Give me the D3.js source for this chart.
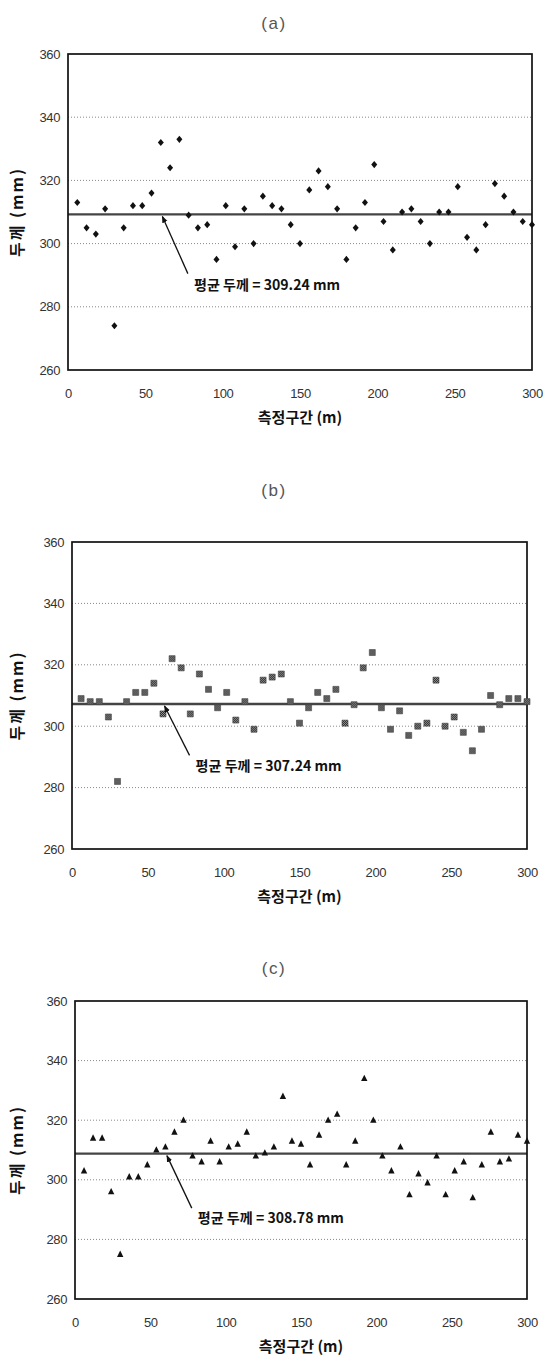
<!DOCTYPE html>
<html>
<head>
<meta charset="utf-8">
<script src="https://cdn.jsdelivr.net/npm/d3@7"></script>
<style>
  body { margin: 0; background: #fff; }
  svg { display: block; }
</style>
</head>
<body>
<script>
var width = 555,
    height = 1358;

// measuring positions (m)
var distance = [6, 12, 18, 24, 30, 36, 42, 48, 54, 60, 66, 72, 78, 84, 90, 96, 102, 108, 114, 120,
                126, 132, 138, 144, 150, 156, 162, 168, 174, 180, 186, 192, 198, 204, 210, 216, 222, 228, 234, 240,
                246, 252, 258, 264, 270, 276, 282, 288, 294, 300];

// thickness (mm) for each case
var thicknessA = [313, 305, 303, 311, 274, 305, 312, 312, 316, 332, 324, 333, 309, 305, 306, 295, 312, 299, 311, 300,
                  315, 312, 311, 306, 300, 317, 323, 318, 311, 295, 305, 313, 325, 307, 298, 310, 311, 307, 300, 310,
                  310, 318, 302, 298, 306, 319, 315, 310, 307, 306];
var thicknessB = [309, 308, 308, 303, 282, 308, 311, 311, 314, 304, 322, 319, 304, 317, 312, 306, 311, 302, 308, 299,
                  315, 316, 317, 308, 301, 306, 311, 309, 312, 301, 307, 319, 324, 306, 299, 305, 297, 300, 301, 315,
                  300, 303, 298, 292, 299, 310, 307, 309, 309, 308];
var thicknessC = [303, 314, 314, 296, 275, 301, 301, 305, 310, 311, 316, 320, 308, 306, 313, 306, 311, 312, 316, 308,
                  309, 311, 328, 313, 312, 305, 315, 320, 322, 305, 313, 334, 320, 308, 303, 311, 295, 302, 299, 308,
                  295, 303, 306, 294, 305, 316, 306, 307, 315, 313];

var panelLabels = ["(a)", "(b)", "(c)"];
var xTicks = [0, 50, 100, 150, 200, 250, 300];
var yTicks = [260, 280, 300, 320, 340, 360];
var xTitle = "측정구간 (m)";
var yTitle = "두께 (mm)";
var meanPrefix = "평균 두께 = ";

var panels = [
  { label: panelLabels[0], values: thicknessA, marker: "diamond",
    box: { left: 68, right: 532, top: 54, bottom: 370 }, titleY: 23 },
  { label: panelLabels[1], values: thicknessB, marker: "square",
    box: { left: 72, right: 527, top: 542, bottom: 849 }, titleY: 490 },
  { label: panelLabels[2], values: thicknessC, marker: "triangle",
    box: { left: 75, right: 527, top: 1001, bottom: 1299 }, titleY: 968 }
];

var svg = d3.select("body").append("svg")
    .attr("width", width)
    .attr("height", height);

var defs = svg.append("defs");

// grey hatched fill used by the square markers
var pat = defs.append("pattern")
    .attr("id", "hatch")
    .attr("width", 2).attr("height", 2)
    .attr("patternUnits", "userSpaceOnUse");
pat.append("rect").attr("width", 2).attr("height", 2).attr("fill", "#999");
pat.append("rect").attr("width", 1).attr("height", 1).attr("fill", "#222");
pat.append("rect").attr("x", 1).attr("y", 1).attr("width", 1).attr("height", 1).attr("fill", "#222");

defs.append("marker")
    .attr("id", "arrowhead")
    .attr("viewBox", "0 0 10 10")
    .attr("refX", 9).attr("refY", 5)
    .attr("markerWidth", 7).attr("markerHeight", 7)
    .attr("markerUnits", "userSpaceOnUse")
    .attr("orient", "auto")
  .append("path")
    .attr("d", "M0,1 L10,5 L0,9 Z")
    .attr("fill", "#111");

var markerPath = {
  diamond: "M0,-3.6 L3,0 L0,3.6 L-3,0 Z",
  square: "M-3,-3 L3,-3 L3,3 L-3,3 Z",
  triangle: "M0,-3.8 L3.2,2.6 L-3.2,2.6 Z"
};

panels.forEach(function(p) {
  var b = p.box;
  var x = d3.scaleLinear().domain([0, 300]).range([b.left, b.right]);
  var y = d3.scaleLinear().domain([260, 360]).range([b.bottom, b.top]);
  var g = svg.append("g");

  // panel title
  g.append("text")
    .attr("x", 274)
    .attr("y", p.titleY)
    .attr("dy", "0.35em")
    .attr("text-anchor", "middle")
    .attr("font-family", "Liberation Sans, Arial, sans-serif")
    .attr("font-size", 17)
    .attr("letter-spacing", 1.5)
    .attr("fill", "#555")
    .text(p.label);

  // dotted grid lines
  g.selectAll(".grid")
    .data(yTicks.slice(1, -1))
    .enter().append("line")
    .attr("x1", b.left).attr("x2", b.right)
    .attr("y1", function(d) { return y(d); })
    .attr("y2", function(d) { return y(d); })
    .attr("stroke", "#888")
    .attr("stroke-width", 1)
    .attr("stroke-dasharray", "1,2");

  // mean line
  var mean = d3.mean(p.values);
  g.append("line")
    .attr("x1", b.left).attr("x2", b.right)
    .attr("y1", y(mean)).attr("y2", y(mean))
    .attr("stroke", "#444")
    .attr("stroke-width", 2.4);

  // frame
  g.append("rect")
    .attr("x", b.left).attr("y", b.top)
    .attr("width", b.right - b.left)
    .attr("height", b.bottom - b.top)
    .attr("fill", "none")
    .attr("stroke", "#111")
    .attr("stroke-width", 1.7);

  // axes
  var yAxis = g.append("g")
    .attr("transform", "translate(" + b.left + ",0)")
    .call(d3.axisLeft(y).tickValues(yTicks).tickSize(0).tickPadding(8));
  var xAxis = g.append("g")
    .attr("transform", "translate(0," + b.bottom + ")")
    .call(d3.axisBottom(x).tickValues(xTicks).tickSize(0));
  xAxis.selectAll("text").attr("y", 23).attr("dy", "0.35em");
  [yAxis, xAxis].forEach(function(a) {
    a.select(".domain").remove();
    a.selectAll("text")
      .attr("font-family", "Liberation Sans, Arial, sans-serif")
      .attr("font-size", 13)
      .attr("letter-spacing", -0.4)
      .attr("fill", "#333");
  });

  // axis titles
  g.append("text")
    .attr("transform", "translate(17," + ((b.top + b.bottom) / 2) + ") rotate(-90)")
    .attr("text-anchor", "middle")
    .attr("dy", "0.35em")
    .attr("font-family", "Noto Sans CJK KR, sans-serif")
    .attr("font-weight", 700)
    .attr("font-size", 16)
    .attr("letter-spacing", 2)
    .attr("fill", "#111")
    .text(yTitle);

  g.append("text")
    .attr("x", (b.left + b.right) / 2)
    .attr("y", b.bottom + 48)
    .attr("dy", "0.35em")
    .attr("text-anchor", "middle")
    .attr("font-family", "Noto Sans CJK KR, sans-serif")
    .attr("font-weight", 700)
    .attr("font-size", 15)
    .attr("fill", "#111")
    .text(xTitle);

  // data points
  g.selectAll(".pt")
    .data(p.values)
    .enter().append("path")
    .attr("d", markerPath[p.marker])
    .attr("transform", function(d, i) {
      return "translate(" + x(distance[i]) + "," + y(d) + ")";
    })
    .attr("fill", p.marker === "square" ? "url(#hatch)" : "#111")
    .attr("stroke", p.marker === "square" ? "#444" : "none")
    .attr("stroke-width", 0.6);

  // mean annotation with arrow
  g.append("line")
    .attr("x1", x(77.5)).attr("y1", y(290.5))
    .attr("x2", x(61)).attr("y2", y(mean) + 2)
    .attr("stroke", "#111")
    .attr("stroke-width", 1.3)
    .attr("marker-end", "url(#arrowhead)");

  g.append("text")
    .attr("x", x(81.5))
    .attr("y", y(287))
    .attr("dy", "0.35em")
    .attr("font-family", "Noto Sans CJK KR, sans-serif")
    .attr("font-weight", 700)
    .attr("font-size", 14)
    .attr("textLength", 146)
    .attr("lengthAdjust", "spacingAndGlyphs")
    .attr("fill", "#111")
    .text(meanPrefix + mean.toFixed(2) + " mm");
});
</script>
</body>
</html>
